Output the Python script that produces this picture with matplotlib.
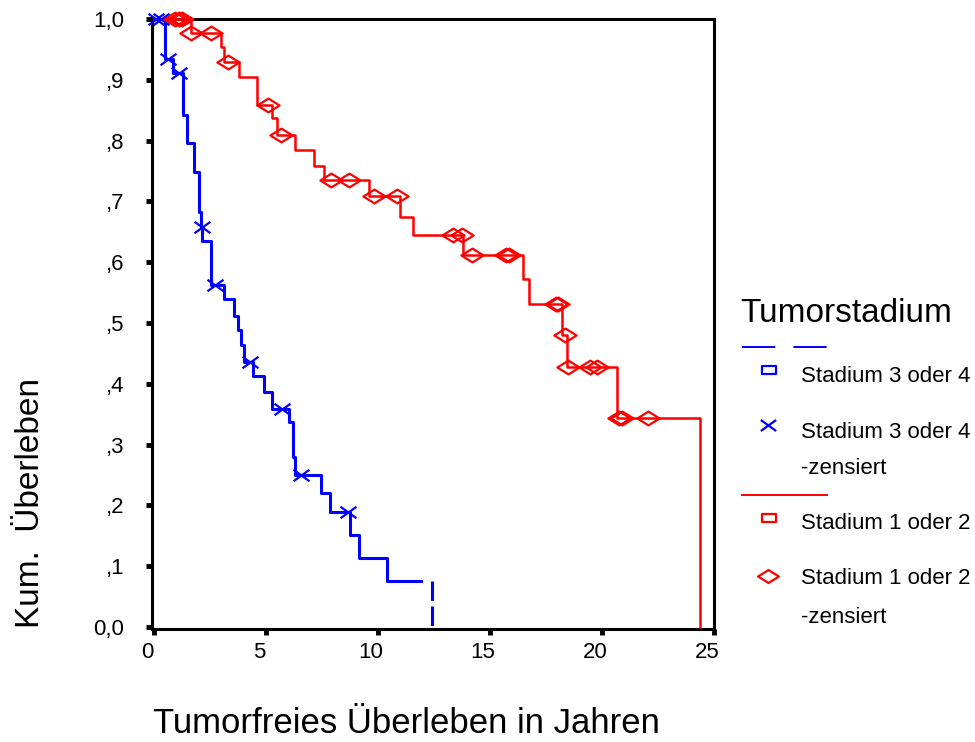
import matplotlib
matplotlib.use("Agg")
import matplotlib.pyplot as plt
import matplotlib.transforms as mtransforms
from matplotlib.path import Path

plt.rcParams['font.family'] = ['Liberation Sans', 'DejaVu Sans']
plt.rcParams['lines.scale_dashes'] = False

# Kaplan-Meier estimates: event times (years) and survival after each step
late_times = [0, 0.49, 0.85, 1.29, 1.47, 1.80, 2.00, 2.09, 2.16, 2.55, 3.12, 3.56,
              3.74, 3.88, 4.01, 4.41, 4.90, 5.26, 6.01, 6.19, 6.28, 7.44, 7.84,
              8.73, 9.13, 10.42]
late_surv = [1.0, 0.935, 0.911, 0.842, 0.796, 0.748, 0.683, 0.658, 0.635, 0.5625,
             0.539, 0.512, 0.488, 0.464, 0.436, 0.413, 0.387, 0.359, 0.337, 0.280,
             0.250, 0.220, 0.189, 0.151, 0.113, 0.076]
late_plateau_end = 11.94
late_last_event = 12.43
late_cens_t = [0.10, 0.30, 0.62, 1.11, 2.12, 2.72, 4.28, 5.70, 6.55, 8.64]
late_cens_s = [1.0, 1.0, 0.935, 0.911, 0.658, 0.5625, 0.436, 0.359, 0.250, 0.189]

early_times = [0, 1.65, 2.98, 3.12, 3.79, 4.59, 5.26, 5.48, 6.28, 7.13, 7.57,
               9.62, 11.00, 11.58, 13.81, 16.48, 16.75, 18.22, 18.44, 20.67]
early_surv = [1.0, 0.977, 0.954, 0.929, 0.905, 0.859, 0.837, 0.809, 0.785, 0.758,
              0.735, 0.709, 0.674, 0.645, 0.612, 0.572, 0.531, 0.480, 0.428, 0.344]
early_last_event = 24.37
early_cens_t = [0.95, 1.10, 1.25, 1.65, 2.54, 3.30, 5.08, 5.66, 7.88, 8.69, 9.84,
                10.87, 13.36, 13.76, 14.21, 15.70, 15.85, 17.95, 18.05, 18.35,
                18.50, 19.47, 19.78, 20.76, 20.90, 22.05]
early_cens_s = [1.0, 1.0, 1.0, 0.977, 0.977, 0.929, 0.859, 0.809, 0.735, 0.735,
                0.709, 0.709, 0.645, 0.645, 0.612, 0.612, 0.612, 0.531, 0.531,
                0.480, 0.428, 0.428, 0.428, 0.344, 0.344, 0.344]

x_ticks = [0, 5, 10, 15, 20, 25]
y_ticks = [0.0, 0.1, 0.2, 0.3, 0.4, 0.5, 0.6, 0.7, 0.8, 0.9, 1.0]
y_ticklabels = ['0,0', ',1', ',2', ',3', ',4', ',5', ',6', ',7', ',8', ',9', '1,0']

legend_title = 'Tumorstadium'
legend_late = 'Stadium 3 oder 4'
legend_early = 'Stadium 1 oder 2'
legend_cens = '-zensiert'
x_label = 'Tumorfreies Überleben in Jahren'
y_label = 'Kum.  Überleben'

BLUE = '#0000ff'
RED = '#ff0000'

# flattened marker shapes
cross = Path([(-1, -0.72), (1, 0.72), (-1, 0.72), (1, -0.72)],
             [Path.MOVETO, Path.LINETO, Path.MOVETO, Path.LINETO])
diamond = Path([(-1, 0), (0, 0.62), (1, 0), (0, -0.62), (-1, 0)],
               [Path.MOVETO, Path.LINETO, Path.LINETO, Path.LINETO, Path.CLOSEPOLY])
rect = Path([(-1, -0.55), (1, -0.55), (1, 0.55), (-1, 0.55), (-1, -0.55)],
            [Path.MOVETO, Path.LINETO, Path.LINETO, Path.LINETO, Path.CLOSEPOLY])

W, H = 975, 742
fig = plt.figure(figsize=(W / 100, H / 100), dpi=100)
L, R, T, B = 152, 714, 19, 629
ax = fig.add_axes([L / W, 1 - B / H, (R - L) / W, (B - T) / H])

# Stadium 3 oder 4
ax.step(late_times + [late_plateau_end], late_surv + [late_surv[-1]], where='post',
        color=BLUE, lw=2.2, clip_on=False, zorder=3)
ax.plot([late_last_event, late_last_event], [late_surv[-1], 0], color=BLUE, lw=2.2,
        dashes=(14, 4), zorder=3)
ax.plot(late_cens_t, late_cens_s, ls='none', marker=cross, ms=11.5, mew=1.6,
        color=BLUE, clip_on=False, zorder=4)

# Stadium 1 oder 2
ax.step(early_times + [early_last_event, early_last_event],
        early_surv + [early_surv[-1], 0], where='post',
        color=RED, lw=1.8, clip_on=False, zorder=3)
ax.plot(early_cens_t, early_cens_s, ls='none', marker=diamond, ms=16, mew=1.6,
        mec=RED, mfc='none', clip_on=False, zorder=4)

ax.set_xlim(-0.09, 25.0)
ax.set_ylim(-0.0033, 1.0)
ax.set_xticks(x_ticks)
ax.set_xticklabels([str(v) for v in x_ticks])
ax.set_yticks(y_ticks)
ax.set_yticklabels(y_ticklabels)
ax.tick_params(axis='both', direction='out', length=4, width=3.5, color='black',
               labelsize=16)
ax.tick_params(axis='y', pad=16)
ax.tick_params(axis='x', pad=5)
# x tick labels sit a little to the left of their ticks
shift = mtransforms.ScaledTranslation(-7 / 100, 0, fig.dpi_scale_trans)
for lbl in ax.get_xticklabels():
    lbl.set_transform(lbl.get_transform() + shift)
for sp in ax.spines.values():
    sp.set_linewidth(2.2)
    sp.set_color('black')

# overlay in pixel coordinates for legend and axis titles
ov = fig.add_axes([0, 0, 1, 1], facecolor='none')
ov.set_xlim(0, W)
ov.set_ylim(H, 0)
ov.axis('off')

ov.text(406, 733, x_label, fontsize=25, ha='center', va='baseline')
ov.text(31, 503, y_label, fontsize=24, ha='center', va='center', rotation=90)

ov.text(740, 322, legend_title, fontsize=24, ha='left', va='baseline')
ov.plot([742, 827], [347, 347], color=BLUE, lw=1.4, dashes=(24, 13))
ov.plot([769], [370], marker=rect, ms=9.5, mew=1.6, mec=BLUE, mfc='none', ls='none')
ov.text(801, 382, legend_late, fontsize=16, ha='left', va='baseline')
ov.plot([768], [425], marker=cross, ms=11, mew=1.6, color=BLUE, ls='none')
ov.text(801, 438, legend_late, fontsize=16, ha='left', va='baseline')
ov.text(801, 474, legend_cens, fontsize=16, ha='left', va='baseline')
ov.plot([742, 827], [495, 495], color=RED, lw=1.4)
ov.plot([769], [518], marker=rect, ms=9.5, mew=1.6, mec=RED, mfc='none', ls='none')
ov.text(801, 529, legend_early, fontsize=16, ha='left', va='baseline')
ov.plot([768], [576], marker=diamond, ms=15, mew=1.6, mec=RED, mfc='none', ls='none')
ov.text(801, 584, legend_early, fontsize=16, ha='left', va='baseline')
ov.text(801, 623, legend_cens, fontsize=16, ha='left', va='baseline')

fig.savefig('out.png', dpi=100)
